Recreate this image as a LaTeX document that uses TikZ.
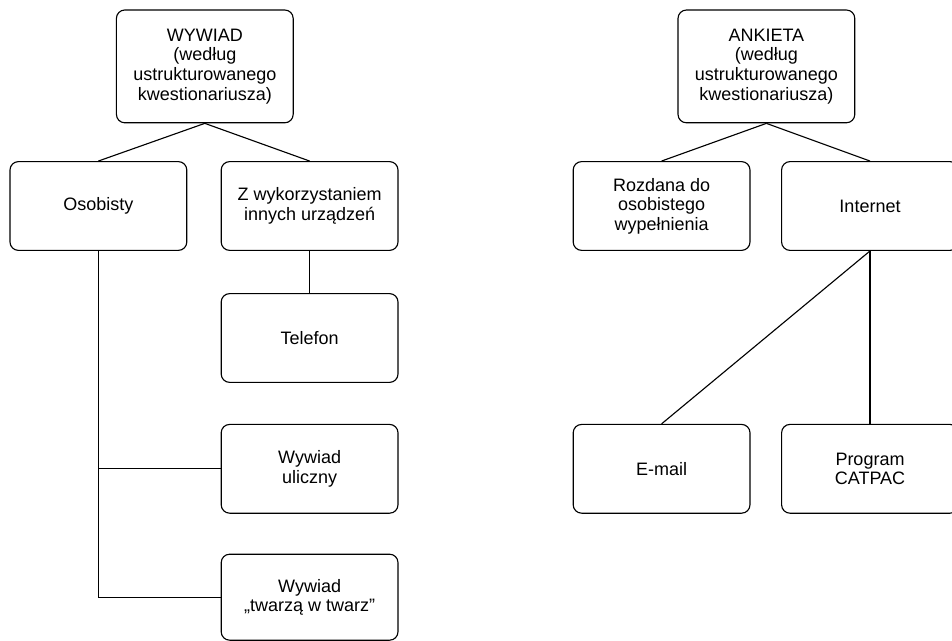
\documentclass[tikz,border=0pt]{standalone}
\usepackage{fontspec}
\setmainfont{Liberation Sans}
\begin{document}
\begin{tikzpicture}[font=\fontsize{12.8}{13.9}\selectfont, line width=0.8pt,
  box/.style={draw, rounded corners=6pt, minimum width=4.42cm,
              minimum height=#1, align=center, inner sep=0pt},
  box/.default=2.22cm
]
  \useasboundingbox (0,0) rectangle (23.8,-16.025);
  % interview
  \node[box=2.82cm] (wyw)    at (5.12,-1.66)  {WYWIAD\\(według\\ustrukturowanego\\kwestionariusza)};
  \node[box]        (osob)   at (2.46,-5.15)  {Osobisty};
  \node[box]        (inne)   at (7.74,-5.15)  {Z wykorzystaniem\\innych urządzeń};
  \node[box]        (tel)    at (7.74,-8.45)  {Telefon};
  \node[box]        (ulicz)  at (7.74,-11.72) {Wywiad\\uliczny};
  \node[box=2.15cm] (twarz)  at (7.74,-14.93) {Wywiad\\„twarzą w twarz”};
  % questionnaire
  \node[box=2.82cm] (ank)    at (19.16,-1.66) {ANKIETA\\(według\\ustrukturowanego\\kwestionariusza)};
  \node[box]        (rozd)   at (16.54,-5.15) {Rozdana do\\osobistego\\wypełnienia};
  \node[box]        (inet)   at (21.75,-5.15) {Internet};
  \node[box]        (email)  at (16.54,-11.72) {E-mail};
  \node[box]        (catpac) at (21.75,-11.72) {Program\\CATPAC};
  \draw (wyw.south) -- (osob.north);
  \draw (wyw.south) -- (inne.north);
  \draw (inne.south) -- (tel.north);
  \draw (osob.south) -- (osob.south |- twarz.west) -- (twarz.west);
  \draw (osob.south |- ulicz.west) -- (ulicz.west);
  \draw (ank.south) -- (rozd.north);
  \draw (ank.south) -- (inet.north);
  \draw (inet.south) -- (email.north);
  \draw (inet.south) -- (catpac.north);
\end{tikzpicture}
\end{document}
